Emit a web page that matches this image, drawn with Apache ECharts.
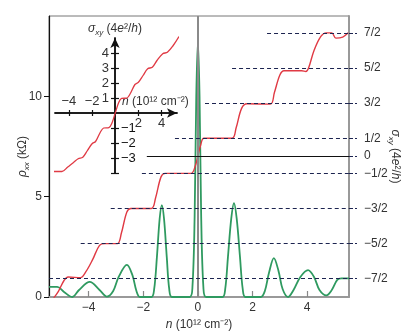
<!DOCTYPE html>
<html>
<head>
<meta charset="utf-8">
<script src="https://cdn.jsdelivr.net/npm/echarts@6/dist/echarts.min.js"></script>
<style>
  html, body { margin: 0; padding: 0; background: #fff; }
  #chart { width: 415px; height: 332px; }
</style>
</head>
<body>
<div id="chart"></div>
<script>
// main panel: rho_xx (green, left axis) and sigma_xy (red, right axis) vs n
const greenN = [-5.45, -5.15, -4.9, -4.6, -4.35, -3.96, -3.6, -3.33, -3.1, -2.9, -2.6, -2.4, -2.25, -2.12, -1.7,
  -1.6, -1.5, -1.4, -1.32, -1.24, -1.14, -1.05, -0.95, -0.3, -0.2, -0.12, -0.06, 0, 0.06, 0.12, 0.2, 0.3, 0.9,
  1.0, 1.1, 1.22, 1.32, 1.42, 1.54, 1.64, 1.74, 2.3, 2.45, 2.6, 2.78, 2.95, 3.1, 3.3, 3.5, 3.75, 4.03, 4.25,
  4.45, 4.7, 4.9, 5.1, 5.25, 5.53];
const greenRho = [0.5, 0.5, 0.25, 0, 0.35, 0.75, 0.35, 0.02, 0.3, 1.0, 1.6, 1.1, 0.3, 0, 0,
  0.4, 2.0, 3.9, 4.58, 3.9, 2.0, 0.4, 0, 0, 0.5, 4, 10, 12.75, 10, 4, 0.5, 0, 0,
  0.4, 2.0, 3.9, 4.68, 3.9, 2.0, 0.4, 0, 0, 0.3, 1.2, 1.94, 1.3, 0.4, 0, 0.35, 1.0, 1.34, 1.0,
  0.35, 0.08, 0.35, 0.85, 0.93, 0.93];

const redN = [-5.28, -5.1, -4.9, -4.75, -4.3, -4.1, -3.85, -3.6, -3.4, -2.95, -2.8, -2.6, -2.45, -1.7, -1.55,
  -1.35, -1.2, -0.25, -0.1, 0, 0.1, 0.22, 1.25, 1.4, 1.6, 1.8, 2.65, 2.8, 3.0, 3.15, 3.8, 3.95, 4.05, 4.25,
  4.5, 4.7, 4.9, 5.05, 5.3, 5.5];
const redSigma = [-4.05, -3.85, -3.55, -3.45, -3.47, -3.3, -2.95, -2.55, -2.5, -2.5, -2.2, -1.6, -1.5, -1.5, -1.2,
  -0.6, -0.5, -0.5, -0.3, 0, 0.3, 0.5, 0.5, 0.8, 1.35, 1.48, 1.47, 1.8, 2.3, 2.42, 2.42, 2.4, 2.5, 3.0,
  3.4, 3.5, 3.5, 3.35, 3.38, 3.5];

// quantised plateaus (right axis) and where each reference line begins
const plateauLevels = [3.5, 2.5, 1.5, 0.5, 0, -0.5, -1.5, -2.5, -3.5];
const plateauStarts = [2.53, 1.25, 0.26, -0.84, -1.87, -2.05, -3.19, -4.29, -5.45];
const plateauLabels = ["7/2", "5/2", "3/2", "1/2", "0", "\u22121/2", "\u22123/2", "\u22125/2", "\u22127/2"];

const mainXTicks = [-4, -2, 0, 2, 4];
const rhoTicks = [0, 5, 10];

// inset: sigma_xy over a wider range
const insetN = [-5.3, -4.6, -4.1, -3.6, -3.2, -2.8, -2.4, -2.0, -1.7, -1.3, -1.0, -0.55, -0.3, 0,
  0.3, 0.55, 1.0, 1.3, 1.7, 2.0, 2.4, 2.8, 3.2, 3.6, 4.1, 4.5, 5.0, 5.5];
const insetSigma = [-3.9, -3.9, -3.6, -3.3, -3.05, -2.95, -2.5, -2.05, -1.9, -1.3, -1.0, -0.97, -0.7, 0,
  0.7, 0.97, 1.0, 1.3, 1.9, 2.05, 2.5, 2.95, 3.05, 3.5, 3.95, 4.05, 4.5, 5.1];
const insetXNeg = [-4, -2];
const insetXPos = [2, 4];
const insetXTicks = [-4, -2, 2, 4];
const insetYPos = [1, 2, 3, 4];
const insetYNeg = [-1, -2, -3];
const insetYTicks = [-4, -3, -2, -1, 1, 2, 3, 4];

const zip = (xs, ys) => xs.map((x, i) => [x, ys[i]]);
const minus = (v) => (v < 0 ? "\u2212" + Math.abs(v) : String(v));

const FONT = "Liberation Sans";
const TEXT = "#333";
const RED = "#e03a44";
const GREEN = "#2f9a60";
const DASH = "#1c2450";
const X_MIN = -5.45, X_MAX = 5.53;
const IX = [-5.2, 5.33], IY = [-4, 5];

const rich = {
  i: { fontFamily: FONT, fontStyle: "italic", fontSize: 12, color: TEXT },
  sub: { fontFamily: FONT, fontStyle: "italic", fontSize: 8, color: TEXT, verticalAlign: "bottom", lineHeight: 16 }
};
const sigmaName = "{i|\u03c3}{sub|xy} (4{i|e}\u00b2/{i|h})";
const nName = "{i|n} (10\u00b9\u00b2 cm\u207b\u00b2)";

const plateauLines = plateauLevels.map((lv, i) => [
  { coord: [plateauStarts[i], lv], lineStyle: lv === 0 ? { color: "#111", type: "solid", width: 1 } : { color: DASH, type: [4, 3], width: 1 } },
  { coord: [X_MAX, lv] }
]);

const hidden = (gridIndex, range) => ({
  type: "value", gridIndex, min: range[0], max: range[1], show: false,
  axisLine: { onZero: false }, splitLine: { show: false }
});
const insetAxisLine = (arrow) => ({
  onZero: false, symbol: arrow ? ["none", "arrow"] : "none", symbolSize: [7, 10],
  lineStyle: { color: "#111", width: 1.5 }
});
const box = (left, top, right, bottom, extra) =>
  Object.assign({ left, top, right, bottom, outerBoundsMode: "none", containLabel: false }, extra || {});

const chart = echarts.init(document.getElementById("chart"));
chart.setOption({
  animation: false,
  backgroundColor: "#fff",
  textStyle: { fontFamily: FONT },
  grid: [
    box(49, 16, 66, 35, { show: true, borderColor: "#777", borderWidth: 1 }),
    // inset plotting area
    box(55, 38, 238, 159),
    // carrier for the inset horizontal axis (bottom edge sits on sigma = 0)
    box(55, 38, 238, 219),
    // carrier for the inset vertical axis (left edge sits on n = 0)
    box(115, 38, 290, 159)
  ],
  xAxis: [
    {
      type: "value", gridIndex: 0, min: X_MIN, max: X_MAX,
      name: nName, nameLocation: "middle", nameGap: 22, nameMoveOverlap: false,
      nameTextStyle: { fontSize: 12, color: TEXT, rich },
      axisLine: { onZero: false, lineStyle: { color: "#999", width: 2 } },
      axisTick: { inside: true, length: 6, customValues: mainXTicks, lineStyle: { color: "#888", width: 1.2 } },
      axisLabel: { customValues: mainXTicks, margin: 5, fontSize: 12, color: TEXT, formatter: minus },
      splitLine: { show: false }
    },
    hidden(1, IX),
    {
      type: "value", gridIndex: 2, min: IX[0], max: IX[1], position: "bottom",
      name: nName, nameLocation: "end", nameGap: -55, nameMoveOverlap: false,
      nameTextStyle: { fontSize: 12, color: TEXT, rich, align: "left", verticalAlign: "bottom", padding: [0, 0, 5, 0] },
      axisLine: insetAxisLine(true),
      axisTick: { inside: true, length: 3, customValues: insetXTicks, lineStyle: { color: "#111", width: 1.2 } },
      axisLabel: { customValues: insetXNeg, inside: true, margin: 5, fontSize: 13, color: TEXT, formatter: minus },
      splitLine: { show: false }
    },
    {
      type: "value", gridIndex: 2, min: IX[0], max: IX[1], position: "bottom",
      axisLine: insetAxisLine(false),
      axisTick: { length: 3, customValues: insetXTicks, lineStyle: { color: "#111", width: 1.2 } },
      axisLabel: { customValues: insetXPos, margin: 4, fontSize: 13, color: TEXT },
      splitLine: { show: false }
    },
    hidden(3, IX)
  ],
  yAxis: [
    {
      type: "value", gridIndex: 0, min: 0, max: 14, position: "left",
      name: "{i|\u03c1}{sub|xx} (k\u03a9)", nameLocation: "middle", nameGap: 18, nameRotate: 90, nameMoveOverlap: false,
      nameTextStyle: { fontSize: 12, color: TEXT, rich },
      axisLine: { onZero: false, lineStyle: { color: "#111", width: 1.2 } },
      axisTick: { length: 5, customValues: rhoTicks, lineStyle: { color: "#111" } },
      axisLabel: { customValues: rhoTicks, margin: 7, fontSize: 12, color: TEXT },
      splitLine: { show: false }
    },
    {
      type: "value", gridIndex: 0, min: -4.02, max: 3.98, position: "right",
      name: sigmaName, nameLocation: "middle", nameGap: 38, nameRotate: -90, nameMoveOverlap: false,
      nameTextStyle: { fontSize: 12, color: TEXT, rich },
      axisLine: { onZero: false, lineStyle: { color: "#999", width: 2 } },
      axisTick: { length: 8, customValues: plateauLevels, lineStyle: { color: DASH, type: [4, 2] } },
      axisLabel: {
        customValues: plateauLevels, margin: 15, fontSize: 12, color: TEXT,
        formatter: (v) => plateauLabels[plateauLevels.indexOf(v)] ?? ""
      },
      splitLine: { show: false }
    },
    hidden(1, IY),
    hidden(2, IY),
    {
      type: "value", gridIndex: 3, min: IY[0], max: IY[1], position: "left",
      name: sigmaName, nameLocation: "end", nameGap: 1, nameMoveOverlap: false,
      nameTextStyle: { fontSize: 12, color: TEXT, rich },
      axisLine: insetAxisLine(true),
      axisTick: { length: 4, customValues: insetYTicks, lineStyle: { color: "#111", width: 1.2 } },
      axisLabel: { customValues: insetYPos, margin: 6, fontSize: 13, color: TEXT },
      splitLine: { show: false }
    },
    {
      type: "value", gridIndex: 3, min: IY[0], max: IY[1], position: "left",
      axisLine: insetAxisLine(false),
      axisTick: { inside: true, length: 4, customValues: insetYTicks, lineStyle: { color: "#111", width: 1.2 } },
      axisLabel: { customValues: insetYNeg, inside: true, margin: 6, fontSize: 13, color: "#111", formatter: minus },
      splitLine: { show: false }
    }
  ],
  series: [
    {
      type: "line", xAxisIndex: 0, yAxisIndex: 0, data: zip(greenN, greenRho),
      smooth: 0.35, showSymbol: false, clip: true,
      lineStyle: { color: GREEN, width: 1.8 },
      markLine: {
        silent: true, symbol: "none", label: { show: false },
        lineStyle: { color: "#8a8a8a", type: "solid", width: 2 },
        data: [{ xAxis: 0 }]
      }
    },
    {
      type: "line", xAxisIndex: 0, yAxisIndex: 1, data: zip(redN, redSigma),
      smooth: 0.35, showSymbol: false, clip: true,
      lineStyle: { color: RED, width: 1.4 },
      markLine: { silent: true, symbol: "none", label: { show: false }, data: plateauLines }
    },
    {
      type: "line", xAxisIndex: 1, yAxisIndex: 2, data: zip(insetN, insetSigma),
      smooth: 0.35, showSymbol: false, clip: false,
      lineStyle: { color: RED, width: 1.3 }
    }
  ]
});
</script>
</body>
</html>
